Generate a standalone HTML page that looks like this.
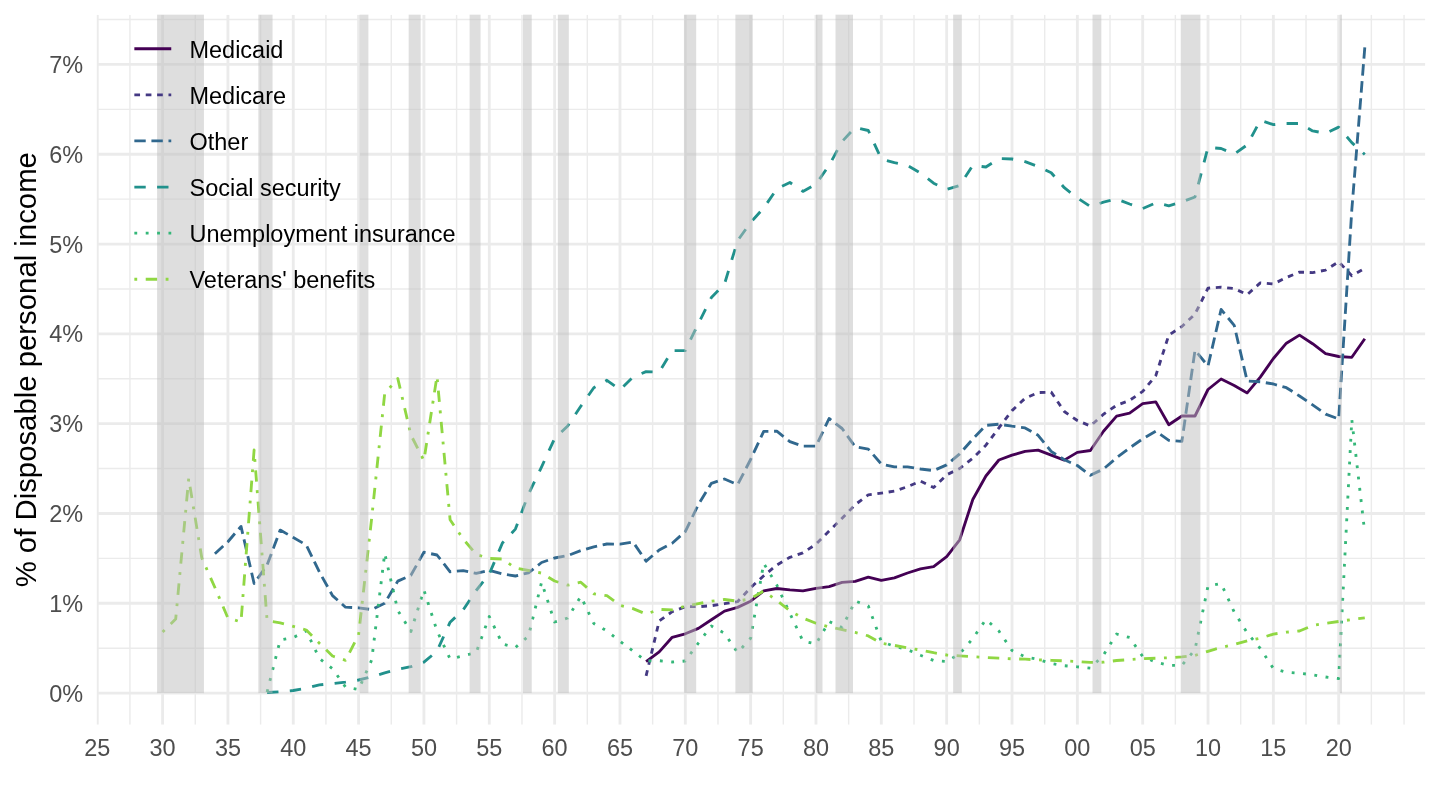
<!DOCTYPE html><html><head><meta charset="utf-8"><style>html,body{margin:0;padding:0;background:#fff;}svg{display:block;will-change:transform}text{font-family:"Liberation Sans",Arial,sans-serif}</style></head><body>
<svg width="1440" height="810" viewBox="0 0 1440 810">
<rect width="1440" height="810" fill="#fff"/>
<defs><clipPath id="pc"><rect x="96.8" y="14.67" width="1328.53" height="710.13"/></clipPath></defs>
<g clip-path="url(#pc)">
<line x1="96.8" x2="1425.33" y1="648.20" y2="648.20" stroke="#EBEBEB" stroke-width="1.42"/>
<line x1="96.8" x2="1425.33" y1="558.38" y2="558.38" stroke="#EBEBEB" stroke-width="1.42"/>
<line x1="96.8" x2="1425.33" y1="468.58" y2="468.58" stroke="#EBEBEB" stroke-width="1.42"/>
<line x1="96.8" x2="1425.33" y1="378.76" y2="378.76" stroke="#EBEBEB" stroke-width="1.42"/>
<line x1="96.8" x2="1425.33" y1="288.96" y2="288.96" stroke="#EBEBEB" stroke-width="1.42"/>
<line x1="96.8" x2="1425.33" y1="199.14" y2="199.14" stroke="#EBEBEB" stroke-width="1.42"/>
<line x1="96.8" x2="1425.33" y1="109.34" y2="109.34" stroke="#EBEBEB" stroke-width="1.42"/>
<line x1="96.8" x2="1425.33" y1="19.52" y2="19.52" stroke="#EBEBEB" stroke-width="1.42"/>
<line x1="129.92" x2="129.92" y1="14.67" y2="724.8" stroke="#EBEBEB" stroke-width="1.42"/>
<line x1="195.26" x2="195.26" y1="14.67" y2="724.8" stroke="#EBEBEB" stroke-width="1.42"/>
<line x1="260.60" x2="260.60" y1="14.67" y2="724.8" stroke="#EBEBEB" stroke-width="1.42"/>
<line x1="325.94" x2="325.94" y1="14.67" y2="724.8" stroke="#EBEBEB" stroke-width="1.42"/>
<line x1="391.28" x2="391.28" y1="14.67" y2="724.8" stroke="#EBEBEB" stroke-width="1.42"/>
<line x1="456.62" x2="456.62" y1="14.67" y2="724.8" stroke="#EBEBEB" stroke-width="1.42"/>
<line x1="521.96" x2="521.96" y1="14.67" y2="724.8" stroke="#EBEBEB" stroke-width="1.42"/>
<line x1="587.30" x2="587.30" y1="14.67" y2="724.8" stroke="#EBEBEB" stroke-width="1.42"/>
<line x1="652.64" x2="652.64" y1="14.67" y2="724.8" stroke="#EBEBEB" stroke-width="1.42"/>
<line x1="717.98" x2="717.98" y1="14.67" y2="724.8" stroke="#EBEBEB" stroke-width="1.42"/>
<line x1="783.32" x2="783.32" y1="14.67" y2="724.8" stroke="#EBEBEB" stroke-width="1.42"/>
<line x1="848.66" x2="848.66" y1="14.67" y2="724.8" stroke="#EBEBEB" stroke-width="1.42"/>
<line x1="914.00" x2="914.00" y1="14.67" y2="724.8" stroke="#EBEBEB" stroke-width="1.42"/>
<line x1="979.34" x2="979.34" y1="14.67" y2="724.8" stroke="#EBEBEB" stroke-width="1.42"/>
<line x1="1044.68" x2="1044.68" y1="14.67" y2="724.8" stroke="#EBEBEB" stroke-width="1.42"/>
<line x1="1110.02" x2="1110.02" y1="14.67" y2="724.8" stroke="#EBEBEB" stroke-width="1.42"/>
<line x1="1175.36" x2="1175.36" y1="14.67" y2="724.8" stroke="#EBEBEB" stroke-width="1.42"/>
<line x1="1240.70" x2="1240.70" y1="14.67" y2="724.8" stroke="#EBEBEB" stroke-width="1.42"/>
<line x1="1306.04" x2="1306.04" y1="14.67" y2="724.8" stroke="#EBEBEB" stroke-width="1.42"/>
<line x1="1371.38" x2="1371.38" y1="14.67" y2="724.8" stroke="#EBEBEB" stroke-width="1.42"/>
<line x1="1404.05" x2="1404.05" y1="14.67" y2="724.8" stroke="#EBEBEB" stroke-width="1.42"/>
<line x1="96.8" x2="1425.33" y1="693.10" y2="693.10" stroke="#EBEBEB" stroke-width="2.845"/>
<line x1="96.8" x2="1425.33" y1="603.29" y2="603.29" stroke="#EBEBEB" stroke-width="2.845"/>
<line x1="96.8" x2="1425.33" y1="513.48" y2="513.48" stroke="#EBEBEB" stroke-width="2.845"/>
<line x1="96.8" x2="1425.33" y1="423.67" y2="423.67" stroke="#EBEBEB" stroke-width="2.845"/>
<line x1="96.8" x2="1425.33" y1="333.86" y2="333.86" stroke="#EBEBEB" stroke-width="2.845"/>
<line x1="96.8" x2="1425.33" y1="244.05" y2="244.05" stroke="#EBEBEB" stroke-width="2.845"/>
<line x1="96.8" x2="1425.33" y1="154.24" y2="154.24" stroke="#EBEBEB" stroke-width="2.845"/>
<line x1="96.8" x2="1425.33" y1="64.43" y2="64.43" stroke="#EBEBEB" stroke-width="2.845"/>
<line x1="97.25" x2="97.25" y1="14.67" y2="724.8" stroke="#EBEBEB" stroke-width="2.845"/>
<line x1="162.59" x2="162.59" y1="14.67" y2="724.8" stroke="#EBEBEB" stroke-width="2.845"/>
<line x1="227.93" x2="227.93" y1="14.67" y2="724.8" stroke="#EBEBEB" stroke-width="2.845"/>
<line x1="293.27" x2="293.27" y1="14.67" y2="724.8" stroke="#EBEBEB" stroke-width="2.845"/>
<line x1="358.61" x2="358.61" y1="14.67" y2="724.8" stroke="#EBEBEB" stroke-width="2.845"/>
<line x1="423.95" x2="423.95" y1="14.67" y2="724.8" stroke="#EBEBEB" stroke-width="2.845"/>
<line x1="489.29" x2="489.29" y1="14.67" y2="724.8" stroke="#EBEBEB" stroke-width="2.845"/>
<line x1="554.63" x2="554.63" y1="14.67" y2="724.8" stroke="#EBEBEB" stroke-width="2.845"/>
<line x1="619.97" x2="619.97" y1="14.67" y2="724.8" stroke="#EBEBEB" stroke-width="2.845"/>
<line x1="685.31" x2="685.31" y1="14.67" y2="724.8" stroke="#EBEBEB" stroke-width="2.845"/>
<line x1="750.65" x2="750.65" y1="14.67" y2="724.8" stroke="#EBEBEB" stroke-width="2.845"/>
<line x1="815.99" x2="815.99" y1="14.67" y2="724.8" stroke="#EBEBEB" stroke-width="2.845"/>
<line x1="881.33" x2="881.33" y1="14.67" y2="724.8" stroke="#EBEBEB" stroke-width="2.845"/>
<line x1="946.67" x2="946.67" y1="14.67" y2="724.8" stroke="#EBEBEB" stroke-width="2.845"/>
<line x1="1012.01" x2="1012.01" y1="14.67" y2="724.8" stroke="#EBEBEB" stroke-width="2.845"/>
<line x1="1077.35" x2="1077.35" y1="14.67" y2="724.8" stroke="#EBEBEB" stroke-width="2.845"/>
<line x1="1142.69" x2="1142.69" y1="14.67" y2="724.8" stroke="#EBEBEB" stroke-width="2.845"/>
<line x1="1208.03" x2="1208.03" y1="14.67" y2="724.8" stroke="#EBEBEB" stroke-width="2.845"/>
<line x1="1273.37" x2="1273.37" y1="14.67" y2="724.8" stroke="#EBEBEB" stroke-width="2.845"/>
<line x1="1338.71" x2="1338.71" y1="14.67" y2="724.8" stroke="#EBEBEB" stroke-width="2.845"/>
</g>
<g clip-path="url(#pc)" fill="none" stroke-width="2.845" stroke-linejoin="round" stroke-linecap="butt">
<polyline points="646.1,661.7 659.2,651.9 672.2,637.3 685.3,633.8 698.4,628.4 711.4,619.8 724.5,611.1 737.6,607.4 750.6,601.2 763.7,590.8 776.8,588.5 789.9,589.8 802.9,590.8 816.0,588.3 829.1,586.6 842.1,582.4 855.2,581.4 868.3,577.2 881.3,580.3 894.4,577.8 907.5,573.0 920.5,568.8 933.6,566.7 946.7,556.6 959.7,539.8 972.8,499.5 985.9,476.0 998.9,460.0 1012.0,455.1 1025.1,451.4 1038.1,450.1 1051.2,455.1 1064.3,460.1 1077.3,452.4 1090.4,450.5 1103.5,431.2 1116.6,416.1 1129.6,413.1 1142.7,403.7 1155.8,401.9 1168.8,424.7 1181.9,416.0 1195.0,416.0 1208.0,389.5 1221.1,379.0 1234.2,385.5 1247.2,392.9 1260.3,377.1 1273.4,358.5 1286.4,343.2 1299.5,335.1 1312.6,343.7 1325.6,353.6 1338.7,356.5 1351.8,357.3 1364.8,338.8" stroke="#440154"/>
<polyline points="646.1,675.8 659.2,621.0 672.2,611.6 685.3,606.7 698.4,606.7 711.4,605.7 724.5,603.7 737.6,601.7 750.6,587.7 763.7,575.8 776.8,565.0 789.9,557.3 802.9,552.8 816.0,544.2 829.1,531.1 842.1,518.3 855.2,504.7 868.3,494.8 881.3,493.1 894.4,491.1 907.5,486.7 920.5,481.1 933.6,487.6 946.7,474.8 959.7,468.5 972.8,458.3 985.9,445.2 998.9,427.9 1012.0,410.6 1025.1,398.3 1038.1,392.6 1051.2,392.1 1064.3,411.5 1077.3,420.5 1090.4,426.0 1103.5,414.2 1116.6,405.3 1129.6,400.4 1142.7,391.4 1155.8,375.6 1168.8,335.1 1181.9,326.5 1195.0,314.1 1208.0,288.2 1221.1,287.2 1234.2,288.6 1247.2,294.6 1260.3,282.9 1273.4,284.0 1286.4,277.5 1299.5,272.1 1312.6,272.6 1325.6,270.1 1338.7,261.7 1351.8,275.8 1364.8,268.4" stroke="#443983" stroke-dasharray="5.690 5.690"/>
<polyline points="214.9,553.7 227.9,541.7 241.0,526.4 254.1,583.5 267.1,565.0 280.2,530.1 293.3,537.5 306.3,545.0 319.4,572.0 332.5,595.6 345.5,607.2 358.6,607.8 371.7,609.6 384.7,603.3 397.8,581.1 410.9,575.3 423.9,552.2 437.0,555.0 450.1,571.8 463.2,570.6 476.2,573.3 489.3,570.4 502.4,574.0 515.4,576.0 528.5,572.8 541.6,562.5 554.6,558.0 567.7,555.6 580.8,550.6 593.8,546.9 606.9,544.0 620.0,544.2 633.0,542.0 646.1,561.2 659.2,550.0 672.2,543.2 685.3,531.6 698.4,504.5 711.4,483.3 724.5,479.0 737.6,484.7 750.6,459.5 763.7,431.4 776.8,431.2 789.9,441.7 802.9,446.2 816.0,446.2 829.1,418.5 842.1,428.5 855.2,446.7 868.3,449.1 881.3,464.0 894.4,466.9 907.5,466.9 920.5,469.0 933.6,470.6 946.7,464.9 959.7,453.8 972.8,439.0 985.9,425.4 998.9,424.2 1012.0,426.2 1025.1,427.9 1038.1,435.3 1051.2,451.4 1064.3,459.8 1077.3,465.5 1090.4,475.3 1103.5,469.0 1116.6,457.8 1129.6,447.9 1142.7,438.8 1155.8,431.2 1168.8,440.3 1181.9,441.3 1195.0,350.3 1208.0,366.0 1221.1,309.5 1234.2,325.3 1247.2,381.0 1260.3,381.8 1273.4,384.0 1286.4,387.7 1299.5,396.0 1312.6,404.9 1325.6,414.1 1338.7,419.0 1351.8,210.0 1364.8,47.4" stroke="#31688E" stroke-dasharray="11.380 5.690"/>
<polyline points="267.1,692.5 280.2,691.7 293.3,690.5 306.3,688.2 319.4,684.9 332.5,683.6 345.5,682.2 358.6,680.0 371.7,676.9 384.7,672.9 397.8,669.3 410.9,666.7 423.9,662.2 437.0,651.1 450.1,622.2 463.2,609.9 476.2,590.5 489.3,574.0 502.4,543.0 515.4,529.1 528.5,494.0 541.6,466.8 554.6,438.5 567.7,426.0 580.8,406.3 593.8,387.8 606.9,380.3 620.0,389.8 633.0,377.0 646.1,371.6 659.2,372.1 672.2,350.6 685.3,350.6 698.4,323.5 711.4,297.5 724.5,284.0 737.6,240.7 750.6,222.5 763.7,208.0 776.8,188.9 789.9,182.5 802.9,191.4 816.0,184.0 829.1,165.4 842.1,141.5 855.2,127.4 868.3,130.5 881.3,159.0 894.4,162.7 907.5,165.4 920.5,173.0 933.6,183.2 946.7,189.5 959.7,185.5 972.8,165.4 985.9,167.0 998.9,158.6 1012.0,159.0 1025.1,161.7 1038.1,166.5 1051.2,172.7 1064.3,187.7 1077.3,197.9 1090.4,206.6 1103.5,202.2 1116.6,199.0 1129.6,204.0 1142.7,208.6 1155.8,202.8 1168.8,205.8 1181.9,202.0 1195.0,197.0 1208.0,147.3 1221.1,148.5 1234.2,154.1 1247.2,144.9 1260.3,120.3 1273.4,124.7 1286.4,123.5 1299.5,123.5 1312.6,130.9 1325.6,133.3 1338.7,127.1 1351.8,142.6 1364.8,154.5" stroke="#21918C" stroke-dasharray="11.380 11.380"/>
<polyline points="267.1,692.0 280.2,640.0 293.3,637.5 306.3,631.0 319.4,658.5 332.5,668.7 345.5,687.0 358.6,689.5 371.7,660.0 384.7,553.3 397.8,610.5 410.9,631.5 423.9,590.0 437.0,630.8 450.1,659.0 463.2,655.8 476.2,652.5 489.3,616.5 502.4,644.0 515.4,647.5 528.5,636.0 541.6,582.2 554.6,622.0 567.7,618.0 580.8,596.3 593.8,623.5 606.9,630.9 620.0,641.2 633.0,651.1 646.1,661.0 659.2,660.7 672.2,662.0 685.3,661.0 698.4,643.0 711.4,626.0 724.5,633.3 737.6,652.6 750.6,638.3 763.7,563.3 776.8,585.0 789.9,613.5 802.9,641.0 816.0,644.0 829.1,621.5 842.1,627.5 855.2,601.0 868.3,606.0 881.3,641.5 894.4,646.4 907.5,649.6 920.5,655.3 933.6,660.5 946.7,661.5 959.7,653.8 972.8,638.5 985.9,619.5 998.9,631.0 1012.0,650.5 1025.1,656.9 1038.1,659.4 1051.2,663.5 1064.3,665.7 1077.3,666.8 1090.4,668.2 1103.5,655.0 1116.6,634.0 1129.6,637.5 1142.7,656.5 1155.8,662.2 1168.8,665.3 1181.9,665.3 1195.0,649.6 1208.0,586.0 1221.1,583.5 1234.2,612.0 1247.2,632.8 1260.3,648.5 1273.4,668.5 1286.4,672.2 1299.5,673.3 1312.6,674.8 1325.6,677.0 1338.7,678.5 1351.8,419.5 1364.8,533.0" stroke="#35B779" stroke-dasharray="2.845 8.535"/>
<polyline points="162.6,631.9 175.7,619.0 188.7,478.5 201.8,558.0 214.9,587.5 227.9,618.0 241.0,622.0 254.1,450.0 267.1,620.6 280.2,622.8 293.3,626.3 306.3,630.0 319.4,643.3 332.5,656.0 345.5,660.3 358.6,635.0 371.7,518.0 384.7,393.6 397.8,378.5 410.9,435.0 423.9,460.5 437.0,376.0 450.1,519.8 463.2,539.0 476.2,554.4 489.3,558.5 502.4,559.0 515.4,568.0 528.5,570.5 541.6,573.1 554.6,581.0 567.7,585.2 580.8,582.2 593.8,593.8 606.9,595.7 620.0,605.3 633.0,608.6 646.1,614.1 659.2,609.4 672.2,609.9 685.3,606.2 698.4,603.7 711.4,601.2 724.5,599.5 737.6,601.2 750.6,598.8 763.7,590.9 776.8,600.5 789.9,610.8 802.9,618.1 816.0,623.3 829.1,626.9 842.1,629.6 855.2,632.4 868.3,635.9 881.3,643.3 894.4,645.4 907.5,647.9 920.5,650.0 933.6,652.7 946.7,655.0 959.7,655.9 972.8,656.7 985.9,657.5 998.9,658.2 1012.0,658.8 1025.1,659.2 1038.1,659.9 1051.2,660.3 1064.3,660.9 1077.3,661.5 1090.4,662.4 1103.5,662.2 1116.6,660.5 1129.6,659.6 1142.7,658.6 1155.8,658.2 1168.8,657.8 1181.9,656.9 1195.0,655.4 1208.0,651.3 1221.1,647.5 1234.2,644.5 1247.2,640.8 1260.3,638.2 1273.4,634.1 1286.4,632.2 1299.5,631.0 1312.6,625.5 1325.6,623.3 1338.7,621.5 1351.8,619.5 1364.8,617.8" stroke="#90D743" stroke-dasharray="2.845 8.535 11.380 8.535"/>
</g>
<g fill="#BEBEBE" fill-opacity="0.5">
<rect x="157.11" y="14.67" width="46.80" height="678.43"/>
<rect x="258.36" y="14.67" width="14.17" height="678.43"/>
<rect x="359.72" y="14.67" width="8.66" height="678.43"/>
<rect x="408.70" y="14.67" width="11.95" height="678.43"/>
<rect x="469.63" y="14.67" width="10.88" height="678.43"/>
<rect x="523.01" y="14.67" width="8.69" height="678.43"/>
<rect x="557.86" y="14.67" width="10.95" height="678.43"/>
<rect x="684.19" y="14.67" width="11.99" height="678.43"/>
<rect x="735.39" y="14.67" width="17.35" height="678.43"/>
<rect x="815.96" y="14.67" width="6.51" height="678.43"/>
<rect x="835.53" y="14.67" width="17.46" height="678.43"/>
<rect x="953.14" y="14.67" width="8.69" height="678.43"/>
<rect x="1092.53" y="14.67" width="8.77" height="678.43"/>
<rect x="1180.76" y="14.67" width="19.61" height="678.43"/>
<rect x="1339.79" y="14.67" width="2.15" height="678.43"/>
</g>
<line x1="134.35" x2="171.25" y1="48.75" y2="48.75" stroke="#440154" stroke-width="2.845"/>
<text x="189.5" y="57.75" font-size="23.47" fill="#000">Medicaid</text>
<line x1="134.35" x2="171.25" y1="94.85" y2="94.85" stroke="#443983" stroke-width="2.845" stroke-dasharray="5.690 5.690"/>
<text x="189.5" y="103.85" font-size="23.47" fill="#000">Medicare</text>
<line x1="134.35" x2="171.25" y1="140.95" y2="140.95" stroke="#31688E" stroke-width="2.845" stroke-dasharray="11.380 5.690"/>
<text x="189.5" y="149.95" font-size="23.47" fill="#000">Other</text>
<line x1="134.35" x2="171.25" y1="187.05" y2="187.05" stroke="#21918C" stroke-width="2.845" stroke-dasharray="11.380 11.380"/>
<text x="189.5" y="196.05" font-size="23.47" fill="#000">Social security</text>
<line x1="134.35" x2="171.25" y1="233.15" y2="233.15" stroke="#35B779" stroke-width="2.845" stroke-dasharray="2.845 8.535"/>
<text x="189.5" y="242.15" font-size="23.47" fill="#000">Unemployment insurance</text>
<line x1="134.35" x2="171.25" y1="279.25" y2="279.25" stroke="#90D743" stroke-width="2.845" stroke-dasharray="2.845 8.535 11.380 8.535"/>
<text x="189.5" y="288.25" font-size="23.47" fill="#000">Veterans&#39; benefits</text>
<text x="83.2" y="701.70" font-size="23.47" fill="#4D4D4D" text-anchor="end">0%</text>
<text x="83.2" y="611.89" font-size="23.47" fill="#4D4D4D" text-anchor="end">1%</text>
<text x="83.2" y="522.08" font-size="23.47" fill="#4D4D4D" text-anchor="end">2%</text>
<text x="83.2" y="432.27" font-size="23.47" fill="#4D4D4D" text-anchor="end">3%</text>
<text x="83.2" y="342.46" font-size="23.47" fill="#4D4D4D" text-anchor="end">4%</text>
<text x="83.2" y="252.65" font-size="23.47" fill="#4D4D4D" text-anchor="end">5%</text>
<text x="83.2" y="162.84" font-size="23.47" fill="#4D4D4D" text-anchor="end">6%</text>
<text x="83.2" y="73.03" font-size="23.47" fill="#4D4D4D" text-anchor="end">7%</text>
<text x="97.25" y="756.1" font-size="23.47" fill="#4D4D4D" text-anchor="middle">25</text>
<text x="162.59" y="756.1" font-size="23.47" fill="#4D4D4D" text-anchor="middle">30</text>
<text x="227.93" y="756.1" font-size="23.47" fill="#4D4D4D" text-anchor="middle">35</text>
<text x="293.27" y="756.1" font-size="23.47" fill="#4D4D4D" text-anchor="middle">40</text>
<text x="358.61" y="756.1" font-size="23.47" fill="#4D4D4D" text-anchor="middle">45</text>
<text x="423.95" y="756.1" font-size="23.47" fill="#4D4D4D" text-anchor="middle">50</text>
<text x="489.29" y="756.1" font-size="23.47" fill="#4D4D4D" text-anchor="middle">55</text>
<text x="554.63" y="756.1" font-size="23.47" fill="#4D4D4D" text-anchor="middle">60</text>
<text x="619.97" y="756.1" font-size="23.47" fill="#4D4D4D" text-anchor="middle">65</text>
<text x="685.31" y="756.1" font-size="23.47" fill="#4D4D4D" text-anchor="middle">70</text>
<text x="750.65" y="756.1" font-size="23.47" fill="#4D4D4D" text-anchor="middle">75</text>
<text x="815.99" y="756.1" font-size="23.47" fill="#4D4D4D" text-anchor="middle">80</text>
<text x="881.33" y="756.1" font-size="23.47" fill="#4D4D4D" text-anchor="middle">85</text>
<text x="946.67" y="756.1" font-size="23.47" fill="#4D4D4D" text-anchor="middle">90</text>
<text x="1012.01" y="756.1" font-size="23.47" fill="#4D4D4D" text-anchor="middle">95</text>
<text x="1077.35" y="756.1" font-size="23.47" fill="#4D4D4D" text-anchor="middle">00</text>
<text x="1142.69" y="756.1" font-size="23.47" fill="#4D4D4D" text-anchor="middle">05</text>
<text x="1208.03" y="756.1" font-size="23.47" fill="#4D4D4D" text-anchor="middle">10</text>
<text x="1273.37" y="756.1" font-size="23.47" fill="#4D4D4D" text-anchor="middle">15</text>
<text x="1338.71" y="756.1" font-size="23.47" fill="#4D4D4D" text-anchor="middle">20</text>
<text transform="translate(35.6,369.73) rotate(-90)" font-size="29.33" fill="#000" text-anchor="middle">% of Disposable personal income</text>
</svg></body></html>
